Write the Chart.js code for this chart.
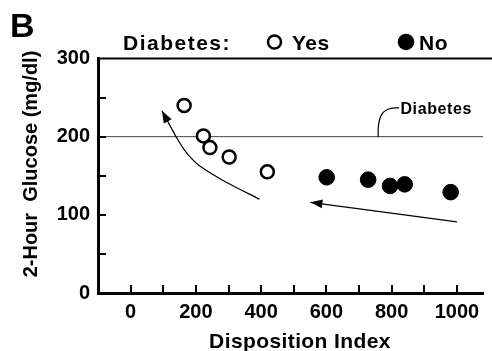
<!DOCTYPE html>
<html>
<head>
<meta charset="utf-8">
<script src="https://cdn.jsdelivr.net/npm/chart.js@4.4.1/dist/chart.umd.min.js"></script>
<style>
  html, body { margin: 0; padding: 0; background: #fff; }
  canvas { display: block; }
</style>
</head>
<body>
<canvas id="chart" width="492" height="351"></canvas>
<script>
// values (disposition index vs 2-hour glucose)
var yesDI = [164, 223, 243, 302, 419];
var yesGlucose = [240, 201, 186, 174, 155];
var noDI = [601, 728, 795, 840, 981];
var noGlucose = [148, 145, 137, 139, 129];

var diabetesCutoff = 200;
var xRange = [-100, 1080];
var yRange = [0, 300];
var xLabelTicks = [0, 200, 400, 600, 800, 1000];
var yLabelTicks = [0, 100, 200, 300];
var xMarkTicks = [0, 100, 200, 300, 400, 500, 600, 700, 800, 900, 1000];
var yMarkTicks = [50, 100, 150, 200, 250];

// hand drawn arrows and the leader for the "Diabetes" note
var arrowLeftDI = [395, 283, 210, 180, 160, 142, 96];
var arrowLeftGlucose = [120, 144, 163, 175, 186, 198, 233];
var arrowRightDI = [1000, 551];
var arrowRightGlucose = [91, 116];
var leaderDI = [759, 759, 763, 772, 786, 802, 823];
var leaderGlucose = [199.6, 212, 222, 230, 234.5, 236.5, 236.8];
var noteDI = 827;
var noteGlucose = 229;

var FONT = "'Liberation Sans', Arial, sans-serif";

function toPoints(xs, ys) {
    var pts = [];
    for (var i = 0; i < xs.length; i++) {
        pts.push({ x: xs[i], y: ys[i] });
    }
    return pts;
}

function lineSet(pts, width, color, tension, arrow) {
    return {
        data: pts,
        showLine: true,
        borderColor: color,
        borderWidth: width,
        pointRadius: 0,
        pointHoverRadius: 0,
        tension: tension,
        fill: false,
        arrowHead: arrow
    };
}

var arrowPlugin = {
    id: 'arrowHeads',
    afterDatasetsDraw: function(chart) {
        var ctx = chart.ctx;
        chart.data.datasets.forEach(function(ds, i) {
            if (!ds.arrowHead) return;
            var pts = chart.getDatasetMeta(i).data;
            var tip = pts[pts.length - 1];
            var prev = pts[pts.length - 2];
            var a = Math.atan2(tip.y - prev.y, tip.x - prev.x);
            var len = 12, half = 4.5;
            ctx.save();
            ctx.fillStyle = '#000';
            ctx.beginPath();
            ctx.moveTo(tip.x, tip.y);
            ctx.lineTo(tip.x - len * Math.cos(a) + half * Math.sin(a), tip.y - len * Math.sin(a) - half * Math.cos(a));
            ctx.lineTo(tip.x - len * Math.cos(a) - half * Math.sin(a), tip.y - len * Math.sin(a) + half * Math.cos(a));
            ctx.closePath();
            ctx.fill();
            ctx.restore();
        });
    }
};

var framePlugin = {
    id: 'frame',
    afterDraw: function(chart) {
        var ctx = chart.ctx;
        var area = chart.chartArea;
        var xs = chart.scales.x, ys = chart.scales.y;
        ctx.save();
        ctx.strokeStyle = '#000';
        ctx.fillStyle = '#000';

        // top rule
        ctx.lineWidth = 2;
        ctx.beginPath();
        ctx.moveTo(area.left, area.top);
        ctx.lineTo(chart.width, area.top);
        ctx.stroke();

        // inward tick marks
        xMarkTicks.forEach(function(v) {
            var px = Math.round(xs.getPixelForValue(v));
            ctx.fillRect(px - 1, area.bottom - 8, 2, 8);
        });
        yMarkTicks.forEach(function(v) {
            var py = Math.round(ys.getPixelForValue(v));
            ctx.fillRect(area.left, py - 1, 8, 2);
        });

        ctx.textBaseline = 'alphabetic';

        // panel letter
        ctx.font = 'bold 34px ' + FONT;
        ctx.textAlign = 'left';
        ctx.fillText('B', 10, 37);

        // legend
        ctx.font = 'bold 21px ' + FONT;
        ctx.letterSpacing = '1.5px';
        ctx.fillText('Diabetes:', 123, 50);
        ctx.letterSpacing = '0.5px';
        ctx.beginPath();
        ctx.lineWidth = 2.5;
        ctx.arc(274.5, 42, 6.5, 0, Math.PI * 2);
        ctx.stroke();
        ctx.fillText(chart.data.datasets[0].label, 292, 50);
        ctx.beginPath();
        ctx.arc(406, 42, 8.3, 0, Math.PI * 2);
        ctx.fill();
        ctx.fillText(chart.data.datasets[1].label, 419, 50);

        // note on the cutoff line
        ctx.font = 'bold 16px ' + FONT;
        ctx.letterSpacing = '0.6px';
        ctx.fillText('Diabetes', xs.getPixelForValue(noteDI), ys.getPixelForValue(noteGlucose));

        // axis titles
        ctx.font = 'bold 21px ' + FONT;
        ctx.letterSpacing = '0.4px';
        ctx.textAlign = 'center';
        ctx.fillText('Disposition Index', 300, 348);

        ctx.font = 'bold 20px ' + FONT;
        ctx.letterSpacing = '0px';
        ctx.translate(37, 164);
        ctx.rotate(-Math.PI / 2);
        ctx.fillText('2-Hour  Glucose (mg/dl)', 0, 0);
        ctx.restore();
    }
};

var config = {
    type: 'scatter',
    data: {
        datasets: [{
            label: 'Yes',
            data: toPoints(yesDI, yesGlucose),
            pointStyle: 'circle',
            pointRadius: 6.5,
            pointBorderWidth: 2.5,
            pointBackgroundColor: '#fff',
            pointBorderColor: '#000'
        }, {
            label: 'No',
            data: toPoints(noDI, noGlucose),
            pointStyle: 'circle',
            pointRadius: 7.8,
            pointBorderWidth: 1,
            pointBackgroundColor: '#000',
            pointBorderColor: '#000'
        },
        lineSet(toPoints(arrowLeftDI, arrowLeftGlucose), 1.2, '#000', 0.2, true),
        lineSet(toPoints(arrowRightDI, arrowRightGlucose), 1.2, '#000', 0, true),
        lineSet(toPoints(leaderDI, leaderGlucose), 1.2, '#000', 0.4, false),
        lineSet(toPoints(xRange, [diabetesCutoff, diabetesCutoff]), 1, '#444', 0, false)
        ]
    },
    options: {
        responsive: false,
        animation: false,
        events: [],
        layout: {
            padding: { top: 58.5, right: 0, bottom: 0, left: 0 }
        },
        plugins: {
            legend: { display: false },
            tooltip: { enabled: false },
            title: { display: false }
        },
        scales: {
            x: {
                type: 'linear',
                min: xRange[0],
                max: xRange[1],
                grid: { display: false, drawTicks: false },
                border: { display: true, color: '#000', width: 3 },
                afterFit: function(scale) { scale.height = 58; },
                ticks: {
                    stepSize: 100,
                    includeBounds: false,
                    maxRotation: 0,
                    autoSkip: false,
                    padding: 7,
                    color: '#000',
                    font: { family: FONT, size: 20, weight: 'bold' },
                    callback: function(v) {
                        return xLabelTicks.indexOf(v) >= 0 ? String(v) : '';
                    }
                }
            },
            y: {
                type: 'linear',
                min: yRange[0],
                max: yRange[1],
                grid: { display: false, drawTicks: false },
                border: { display: true, color: '#000', width: 3 },
                afterFit: function(scale) { scale.width = 98; },
                ticks: {
                    stepSize: 50,
                    autoSkip: false,
                    padding: 8,
                    color: '#000',
                    font: { family: FONT, size: 20, weight: 'bold' },
                    callback: function(v) {
                        return yLabelTicks.indexOf(v) >= 0 ? String(v) : '';
                    }
                }
            }
        }
    },
    plugins: [arrowPlugin, framePlugin]
};

var chart = new Chart(document.getElementById('chart').getContext('2d'), config);
</script>
</body>
</html>
